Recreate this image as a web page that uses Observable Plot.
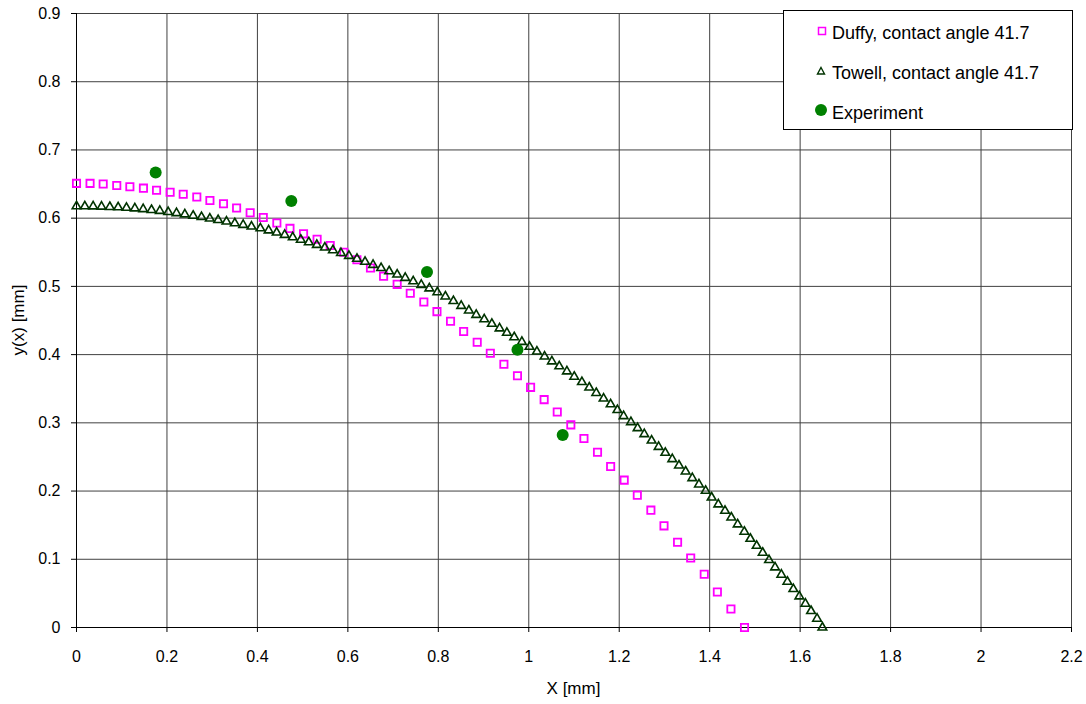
<!DOCTYPE html>
<html><head><meta charset="utf-8">
<script src="https://cdn.jsdelivr.net/npm/d3@7"></script>
<script src="https://cdn.jsdelivr.net/npm/@observablehq/plot@0.6"></script>
<style>
html,body{margin:0;padding:0;background:#fff;}
#chart{position:relative;width:1086px;height:704px;}
</style></head><body><div id="chart"></div>
<script>
const xTicks = [0, 0.2, 0.4, 0.6, 0.8, 1, 1.2, 1.4, 1.6, 1.8, 2, 2.2];
const yTicks = [0, 0.1, 0.2, 0.3, 0.4, 0.5, 0.6, 0.7, 0.8, 0.9];

const duffyX = [0.000,0.030,0.059,0.089,0.118,0.148,0.177,0.207,0.236,0.266,0.295,0.325,0.354,0.384,0.413,0.443,0.472,0.502,0.532,0.561,0.591,0.620,0.650,0.679,0.709,0.738,0.768,0.797,0.827,0.856,0.886,0.915,0.945,0.975,1.004,1.034,1.063,1.093,1.122,1.152,1.181,1.211,1.240,1.270,1.299,1.329,1.358,1.388,1.417,1.447,1.477];
const duffyY = [0.651,0.651,0.650,0.648,0.646,0.644,0.641,0.638,0.635,0.631,0.626,0.621,0.615,0.608,0.601,0.593,0.585,0.577,0.569,0.560,0.550,0.539,0.527,0.515,0.503,0.490,0.477,0.463,0.449,0.434,0.418,0.402,0.386,0.369,0.352,0.334,0.316,0.297,0.277,0.257,0.236,0.216,0.194,0.172,0.149,0.125,0.102,0.078,0.052,0.027,0.000];

const towellX = [
0.0000,0.0184,0.0368,0.0553,0.0737,0.0921,0.1105,0.1290,0.1474,0.1658,
0.1842,0.2027,0.2211,0.2395,0.2579,0.2764,0.2948,0.3132,0.3316,0.3500,
0.3685,0.3869,0.4065,0.4248,0.4426,0.4603,0.4781,0.4959,0.5136,0.5314,
0.5491,0.5669,0.5847,0.6024,0.6202,0.6380,0.6557,0.6735,0.6913,0.7090,
0.7268,0.7445,0.7623,0.7801,0.7978,0.8156,0.8334,0.8506,0.8675,0.8838,
0.9015,0.9184,0.9354,0.9516,0.9678,0.9848,1.0017,1.0180,1.0349,1.0511,
1.0674,1.0843,1.1005,1.1175,1.1337,1.1492,1.1654,1.1810,1.1960,1.2097,
1.2259,1.2406,1.2554,1.2716,1.2871,1.3019,1.3173,1.3321,1.3468,1.3616,
1.3763,1.3911,1.4043,1.4191,1.4339,1.4478,1.4619,1.4766,1.4899,1.5039,
1.5172,1.5312,1.5445,1.5585,1.5718,1.5850,1.5983,1.6116,1.6241,1.6374,
1.6492];
const towellY = [
0.6175,0.6174,0.6172,0.6169,0.6164,0.6159,0.6152,0.6143,0.6133,0.6120,
0.6106,0.6090,0.6073,0.6055,0.6036,0.6016,0.5995,0.5973,0.5950,0.5926,
0.5902,0.5877,0.5851,0.5821,0.5789,0.5755,0.5720,0.5684,0.5647,0.5609,
0.5570,0.5530,0.5489,0.5447,0.5404,0.5360,0.5315,0.5269,0.5222,0.5174,
0.5125,0.5075,0.5022,0.4970,0.4914,0.4852,0.4785,0.4714,0.4647,0.4582,
0.4518,0.4452,0.4385,0.4320,0.4255,0.4186,0.4115,0.4045,0.3972,0.3901,
0.3829,0.3754,0.3676,0.3598,0.3518,0.3438,0.3356,0.3272,0.3187,0.3098,
0.3010,0.2922,0.2834,0.2741,0.2648,0.2561,0.2468,0.2375,0.2287,0.2190,
0.2097,0.2004,0.1906,0.1804,0.1711,0.1613,0.1511,0.1404,0.1301,0.1198,
0.1096,0.0989,0.0881,0.0774,0.0671,0.0564,0.0456,0.0349,0.0242,0.0129,
0.0000];

const expX = [0.175, 0.475, 0.775, 0.975, 1.075];
const expY = [0.667, 0.625, 0.521, 0.407, 0.282];

const seriesNames = ["Duffy, contact angle 41.7", "Towell, contact angle 41.7", "Experiment"];
const xLabel = "X [mm]";
const yLabel = "y(x) [mm]";

const duffy = duffyX.map((x, i) => ({x, y: duffyY[i]}));
const towell = towellX.map((x, i) => ({x, y: towellY[i]}));
const experiment = expX.map((x, i) => ({x, y: expY[i]}));

const FONT = "'Liberation Sans', Arial, sans-serif";
const fmt = d3.format("~g");

const plot = Plot.plot({
  width: 1086, height: 704,
  marginLeft: 76, marginRight: 15, marginTop: 13, marginBottom: 77,
  style: {fontFamily: FONT, fontSize: "16px", color: "#000", background: "#fff", overflow: "visible"},
  x: {domain: [0, 2.2], ticks: xTicks, tickFormat: fmt, tickSize: 5, tickPadding: 18, label: null},
  y: {domain: [0, 0.9], ticks: yTicks, tickFormat: fmt, tickSize: 5, tickPadding: 11, label: null},
  marks: [
    Plot.ruleX(xTicks, {stroke: "#404040"}),
    Plot.ruleY(yTicks, {stroke: "#404040"}),
    Plot.ruleX([0], {stroke: "#000"}),
    Plot.ruleY([0], {stroke: "#000"}),
    Plot.dot(duffy, {x: "x", y: "y", symbol: "square", r: 4.1, stroke: "#FF00FF", strokeWidth: 1.8, fill: "none"}),
    Plot.dot(towell, {x: "x", y: "y", symbol: "triangle", r: 3.2, stroke: "#003300", strokeWidth: 1.6, fill: "none"}),
    Plot.dot(experiment, {x: "x", y: "y", symbol: "circle", r: 6, fill: "#008000", stroke: "none"})
  ]
});
document.getElementById("chart").appendChild(plot);

const svg = d3.select(plot);
svg.append("text").attr("x", 573.5).attr("y", 694).attr("text-anchor", "middle")
  .attr("font-family", FONT).attr("font-size", 17).attr("fill", "#000").text(xLabel);
svg.append("text").attr("transform", "translate(24,320) rotate(-90)").attr("text-anchor", "middle")
  .attr("font-family", FONT).attr("font-size", 17).attr("fill", "#000").text(yLabel);

const lg = svg.append("g");
lg.append("rect").attr("x", 783.5).attr("y", 10.5).attr("width", 289).attr("height", 119)
  .attr("fill", "#fff").attr("stroke", "#000").attr("stroke-width", 1);
lg.append("rect").attr("x", 818.5).attr("y", 27.5).attr("width", 7).attr("height", 7)
  .attr("fill", "none").attr("stroke", "#FF00FF").attr("stroke-width", 1.5);
lg.append("path").attr("d", "M821,67.5 L824.5,74 L817.5,74 Z")
  .attr("fill", "none").attr("stroke", "#003300").attr("stroke-width", 1.4);
lg.append("circle").attr("cx", 821).attr("cy", 110).attr("r", 6).attr("fill", "#008000");
seriesNames.forEach((s, i) => {
  lg.append("text").attr("x", 832).attr("y", 39 + 40 * i).attr("text-anchor", "start")
    .attr("font-family", FONT).attr("font-size", 18).attr("fill", "#000").text(s);
});
</script></body></html>
